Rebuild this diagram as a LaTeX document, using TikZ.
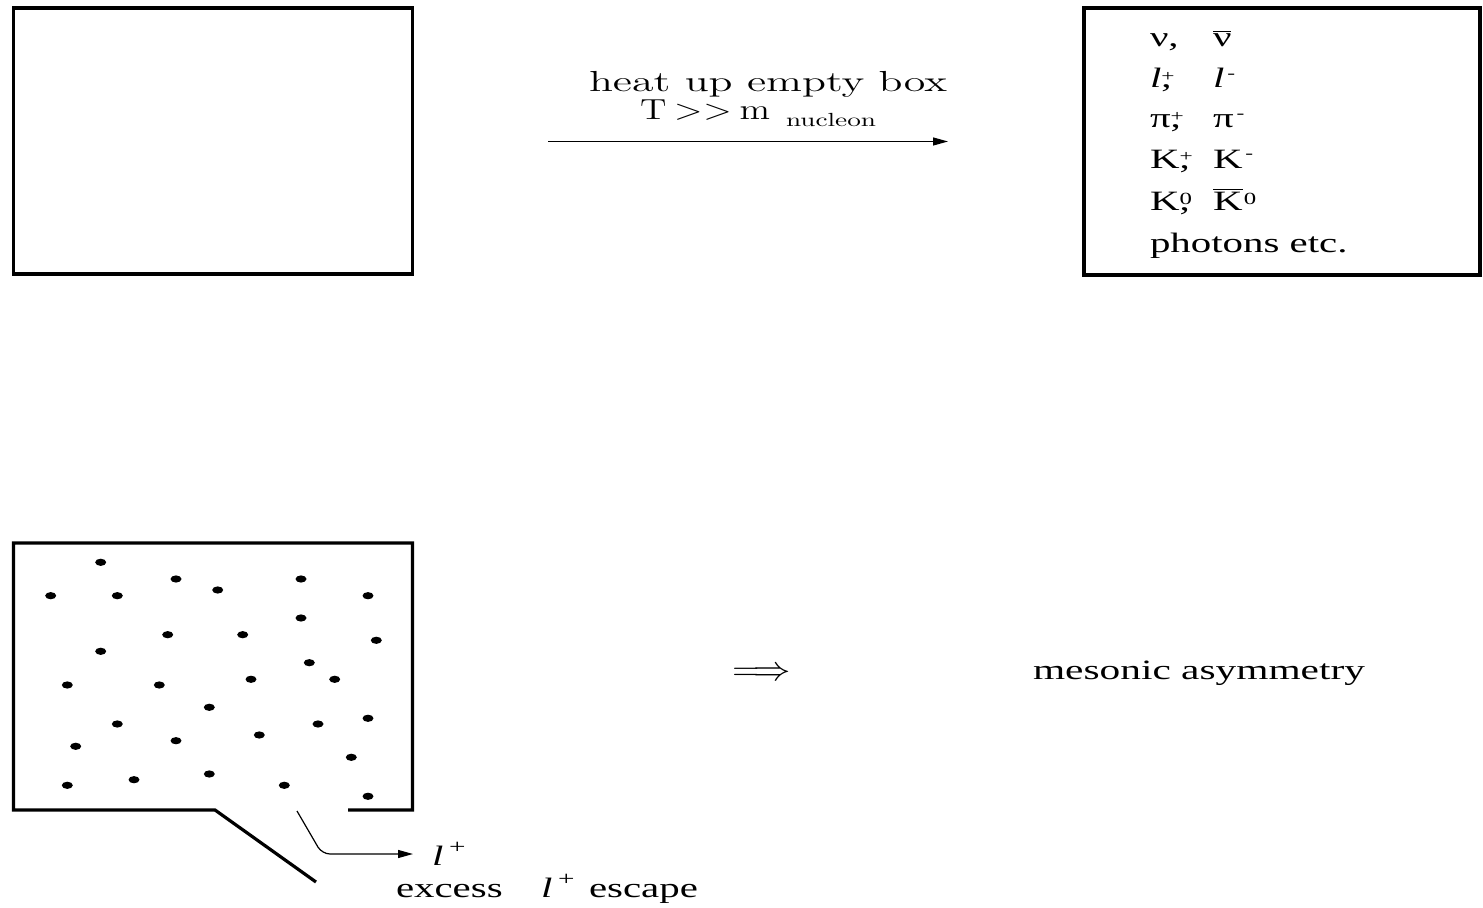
\documentclass[tikz,border=0pt]{standalone}
\usepackage{fontspec}
\newfontfamily\tms{Liberation Serif}
\usetikzlibrary{arrows.meta}
\newcommand\sx[1]{\scalebox{1.46}[1]{#1}}
\newcommand\rw[2]{\resizebox{#1}{\height}{#2}}
\newcommand\up[3]{\raisebox{#1}{\fontsize{#2}{#2}\selectfont #3}}
\tikzset{
  boxline/.style={line width=1.6pt},
  thinarrow/.style={line width=0.6pt,-{Triangle[length=7.5pt,width=4pt]}},
  txt/.style={anchor=base west,inner sep=0pt,outer sep=0pt},
  tm/.style={txt,font=\tms\fontsize{14}{16}\selectfont},
  lm/.style={txt,font=\fontsize{14.5}{16}\selectfont},
}
\begin{document}
\begin{tikzpicture}[x=0.5pt,y=-0.5pt]
\useasboundingbox (0,0) rectangle (1483,908);
% top boxes
\draw[boxline] (13.5,8) rectangle (412.5,274);
\draw[boxline] (1084,8) rectangle (1480,275);
% heat arrow
\node[lm] (heat) at (589,92) {\rw{179pt}{heat up empty box}};
\node[lm] (tm) at (640,120) {\rw{65pt}{T\kern3pt>\kern0.3pt>\kern3pt m}};
\node[txt,font=\fontsize{9.5}{10}\selectfont] (nuc) at (786,126.5) {\rw{45pt}{nucleon}};
\coordinate (a1s) at (548,141.5);
\coordinate (a1e) at (948,141.5);
\draw[thinarrow] (a1s) -- (a1e);
% right box content
\node[tm] (r1a) at (1150,47) {\sx{ν,}};
\node[tm] (r1b) at (1213,47) {\sx{$\overline{\hbox{ν}}$}};
\node[tm] (r2a) at (1150,87.5) {\sx{\textit{l}\rlap{,}\up{3.2pt}{8}{+}}};
\node[tm] (r2b) at (1213,87.5) {\sx{\textit{l}\kern1pt\up{4.5pt}{8}{-}}};
\node[tm] (r3a) at (1150,128) {\sx{π\rlap{,}\up{3.2pt}{8}{+}}};
\node[tm] (r3b) at (1213,128) {\sx{π\kern1pt\up{4.5pt}{8}{-}}};
\node[tm] (r4a) at (1150,169) {\sx{K\rlap{,}\up{3.5pt}{8}{+}}};
\node[tm] (r4b) at (1213,169) {\sx{K\kern1pt\up{5pt}{8}{-}}};
\node[tm] (r5a) at (1150,211) {\sx{K\rlap{,}\up{3pt}{8.5}{0}}};
\node[tm] (r5b) at (1213,211) {\sx{$\overline{\hbox{K}}$\kern0.5pt\up{3pt}{8.5}{0}}};
\node[tm] (r6) at (1150,253) {\sx{photons etc.}};
% bottom box
\draw[boxline] (316,882) -- (215,810) -- (13.5,810) -- (13.5,543) -- (412.5,543) -- (412.5,810) -- (348,810);
\foreach \x/\y in {100.7/562.3,176/579,301/579,50.7/595.7,117.3/595.7,217.7/590,368/595.7,
  301/618,167.7/634.7,242.7/634.7,376.3/640.3,100.7/651.3,309.3/662.7,67.3/685,159.3/685,
  251/679.3,334.7/679.3,209.3/707.3,117.3/724,318/724,368/718.3,259.3/735,176/740.7,
  75.7/746.3,351.3/757.3,67.3/785.3,134/779.7,209.3/774,284.3/785.3,368/796.3}
  \fill (\x,\y) ellipse [x radius=5.5, y radius=3.6];
% escaping lepton
\coordinate (es) at (297,811);
\coordinate (ec) at (322,854);
\coordinate (ee) at (413,854);
\draw[thinarrow, rounded corners=4pt] (es) -- (ec) -- (ee);
\node[tm] (lp) at (432,865) {\sx{\textit{l}\kern2pt\up{6pt}{10}{+}}};
\node[tm] (ex1) at (396,897) {\sx{excess}};
\node[tm] (ex2) at (541,897) {\sx{\textit{l}\kern2pt\up{6pt}{10}{+}}};
\node[tm] (ex3) at (589,897) {\sx{escape}};
% implication
\node[anchor=west,inner sep=0pt,font=\fontsize{18}{18}\selectfont] (impl) at (732,674) {\rw{29pt}{$\Longrightarrow$}};
\node[tm] (mes) at (1033,679) {\rw{166pt}{mesonic asymmetry}};
\end{tikzpicture}
\end{document}
